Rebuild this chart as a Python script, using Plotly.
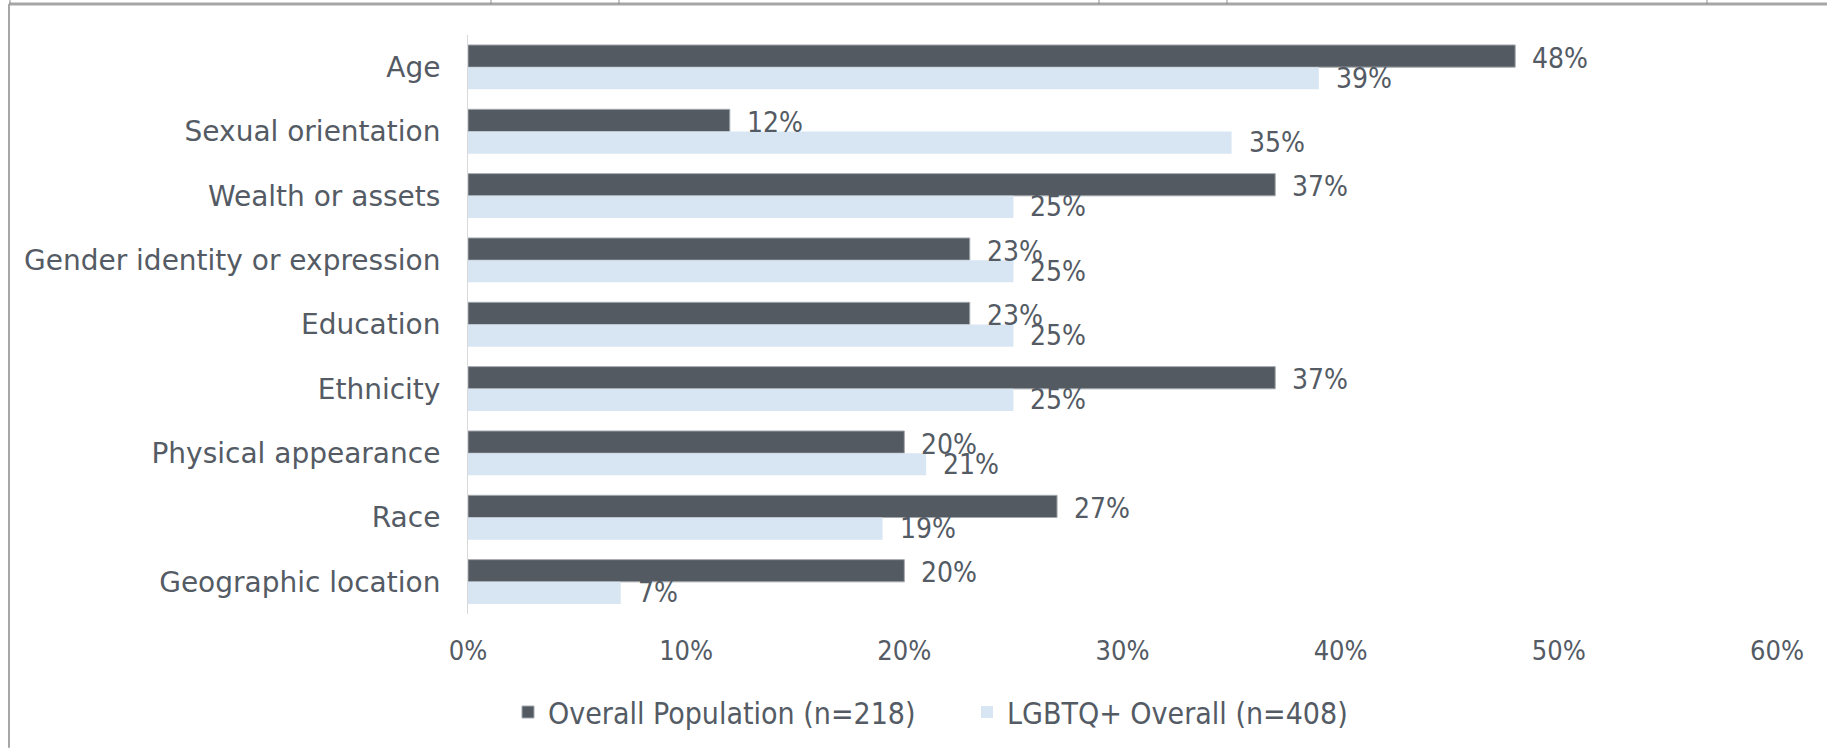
import plotly.graph_objects as go

# Survey categories (top to bottom) and the share in each group
categories = [
    "Age",
    "Sexual orientation",
    "Wealth or assets",
    "Gender identity or expression",
    "Education",
    "Ethnicity",
    "Physical appearance",
    "Race",
    "Geographic location",
]
overall_population = [48, 12, 37, 23, 23, 37, 20, 27, 20]
lgbtq_overall = [39, 35, 25, 25, 25, 25, 21, 19, 7]

series_names = ["Overall Population (n=218)", "LGBTQ+ Overall (n=408)"]
x_ticks = [0, 10, 20, 30, 40, 50, 60]
x_tick_labels = ["0%", "10%", "20%", "30%", "40%", "50%", "60%"]

DARK = "#535A62"
LIGHT = "#D8E5F2"
TEXT = "#545B64"
NUM_FONT = "Liberation Sans Narrow, DejaVu Sans Condensed, DejaVu Sans, sans-serif"
CAT_FONT = "DejaVu Sans, sans-serif"

W, H = 1827, 749
M_L, M_R, M_T, M_B = 468, 50, 35, 134
PW = W - M_L - M_R
PH = H - M_T - M_B


def px_x(px):
    return (px - M_L) / PW


def px_y(py):
    return (H - M_B - py) / PH


fig = go.Figure()
fig.add_trace(go.Bar(
    name=series_names[0], y=categories, x=overall_population, orientation="h",
    marker=dict(color=DARK, line=dict(color="#A4A9AE", width=1)),
))
fig.add_trace(go.Bar(
    name=series_names[1], y=categories, x=lgbtq_overall, orientation="h",
    marker=dict(color=LIGHT, line=dict(width=0)),
))

# value labels just past the end of each bar
annotations = []
for cat, v in zip(categories, overall_population):
    annotations.append(dict(x=v, y=cat, xref="x", yref="y", text=f"{v}%",
                            showarrow=False, xanchor="left", yanchor="middle",
                            xshift=15, yshift=9,
                            font=dict(family=NUM_FONT, size=28, color=TEXT)))
for cat, v in zip(categories, lgbtq_overall):
    annotations.append(dict(x=v, y=cat, xref="x", yref="y", text=f"{v}%",
                            showarrow=False, xanchor="left", yanchor="middle",
                            xshift=15, yshift=-11,
                            font=dict(family=NUM_FONT, size=28, color=TEXT)))

# page frame around the chart and the table edge above it
frame = "#A6A6A6"
shapes = [
    dict(type="line", xref="paper", yref="paper", x0=px_x(9), x1=px_x(W),
         y0=px_y(4), y1=px_y(4), line=dict(color=frame, width=3)),
    dict(type="line", xref="paper", yref="paper", x0=px_x(9), x1=px_x(9),
         y0=px_y(4), y1=px_y(H), line=dict(color=frame, width=2)),
]
for xp in [10, 491, 619, 1099, 1227, 1707]:
    shapes.append(dict(type="line", xref="paper", yref="paper",
                       x0=px_x(xp), x1=px_x(xp), y0=px_y(0), y1=px_y(4),
                       line=dict(color="#8C8C8C", width=1)))

fig.update_layout(
    width=W, height=H, autosize=False,
    margin=dict(l=M_L, r=M_R, t=M_T, b=M_B, pad=0),
    paper_bgcolor="white", plot_bgcolor="white",
    barmode="group", bargap=0.31, bargroupgap=0,
    showlegend=True,
    legend=dict(orientation="h", x=px_x(508), y=px_y(712), xanchor="left",
                yanchor="middle", entrywidth=414, entrywidthmode="pixels",
                font=dict(family=NUM_FONT, size=30, color=TEXT),
                itemwidth=30, traceorder="normal"),
    annotations=annotations,
    shapes=shapes,
    xaxis=dict(range=[0, 60], tickvals=x_ticks, ticktext=x_tick_labels,
               showgrid=False, zeroline=False, showline=False, ticks="",
               ticklabelstandoff=18,
               tickfont=dict(family=NUM_FONT, size=27, color=TEXT)),
    yaxis=dict(autorange="reversed", showgrid=False, zeroline=False,
               showline=True, linecolor="#D9D9D9", linewidth=1, ticks="",
               ticklabelstandoff=21,
               tickfont=dict(family=CAT_FONT, size=28, color=TEXT)),
)

fig.write_html("out.html")
